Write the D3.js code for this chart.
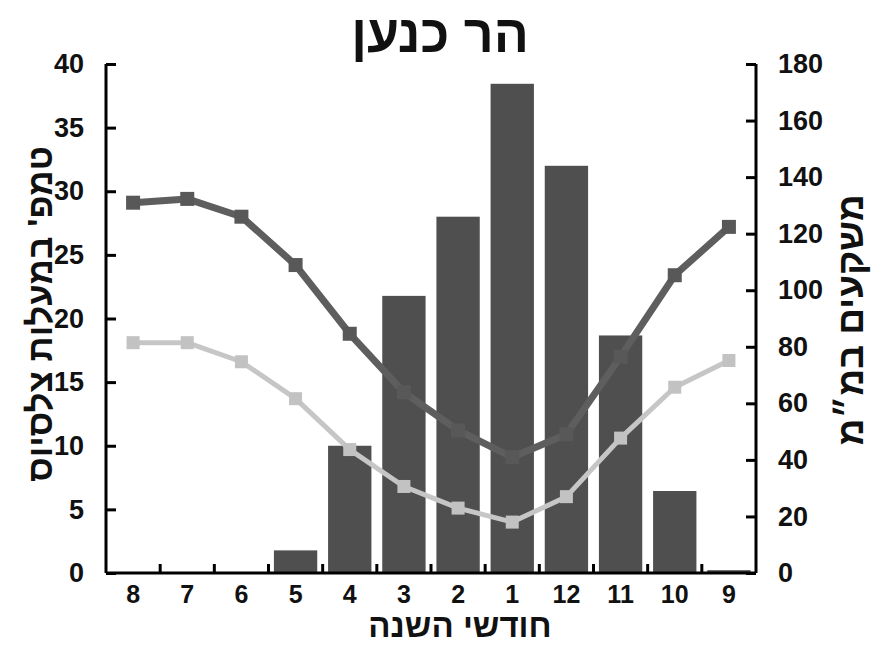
<!DOCTYPE html>
<html><head><meta charset="utf-8">
<script src="https://cdn.jsdelivr.net/npm/d3@7"></script>
<style>
body{margin:0;background:#fff;}
text{font-family:'Liberation Sans Narrow','Arial Narrow','Liberation Sans',sans-serif;font-weight:bold;fill:#111;}
</style></head><body>
<svg id="c" width="877" height="646"></svg>
<script>
const months = ["8","7","6","5","4","3","2","1","12","11","10","9"];
const rain = [0,0,0,8,45,98,126,173,144,84,29,1];
const tMax = [29.1,29.4,28.0,24.2,18.8,14.2,11.2,9.1,10.9,17.0,23.4,27.2];
const tMin = [18.1,18.1,16.6,13.7,9.7,6.8,5.1,4.0,6.0,10.6,14.6,16.7];
const tempTicks = [0,5,10,15,20,25,30,35,40];
const rainTicks = [0,20,40,60,80,100,120,140,160,180];
const title = "הר כנען";
const xTitle = "חודשי השנה";
const yLeftTitle = "טמפ' במעלות צלסיוס";
const yRightTitle = "משקעים במ״מ";

const svg = d3.select("#c");
const L = 106, R = 756, T = 64, B = 573;

const x = d3.scaleBand().domain(months).range([L, R]).paddingInner(0.2).paddingOuter(0.1);
const xb = d3.scaleBand().domain(months).range([L, R]);
const yT = d3.scaleLinear().domain([0, 40]).range([B, T]);
const yR = d3.scaleLinear().domain([0, 180]).range([B, T]);

// bars
svg.append("g").selectAll("rect").data(months).join("rect")
  .attr("x", d => x(d)).attr("width", x.bandwidth())
  .attr("y", (d,i) => yR(rain[i])).attr("height", (d,i) => B - yR(rain[i]))
  .attr("fill", "#4f4f4f");

// lines
const line = vals => d3.line().x((d,i) => xb(months[i]) + xb.bandwidth()/2).y(d => yT(d))(vals);
function series(vals, col, mcol, w, ms){
  svg.append("path").attr("d", line(vals)).attr("fill","none").attr("stroke",col)
    .attr("stroke-width",w).attr("stroke-linejoin","round");
  svg.append("g").selectAll("rect").data(vals).join("rect")
    .attr("x",(d,i)=>xb(months[i])+xb.bandwidth()/2-ms/2).attr("y",d=>yT(d)-ms/2)
    .attr("width",ms).attr("height",ms).attr("fill",mcol);
}
series(tMin, "#c6c6c6", "#c2c2c2", 5, 13);
series(tMax, "#5e5e5e", "#585858", 7, 14);

// left axis
const gl = svg.append("g").attr("transform",`translate(${L},0)`)
  .call(d3.axisLeft(yT).tickValues(tempTicks).tickSize(-10).tickPadding(22));
// right axis
const gr = svg.append("g").attr("transform",`translate(${R},0)`)
  .call(d3.axisRight(yR).tickValues(rainTicks).tickSize(-10).tickPadding(22));
// x axis
const gx = svg.append("g").attr("transform",`translate(0,${B})`)
  .call(d3.axisBottom(xb).tickSize(0).tickPadding(12));
[gl,gr,gx].forEach(g=>{
  g.select(".domain").attr("stroke","#000").attr("stroke-width",3);
  g.selectAll(".tick line").attr("stroke","#000").attr("stroke-width",3);
  g.selectAll("text").style("font-family","'Liberation Sans Narrow','Arial Narrow','Liberation Sans',sans-serif").style("font-weight","bold").attr("fill","#111");
});
gx.selectAll(".tick text").attr("font-size",25).attr("dy","0.72em");
gl.selectAll(".tick text").attr("font-size",27);
gr.selectAll(".tick text").attr("font-size",27);
gl.select(".domain").attr("d",`M0,${T}V${B}`);
gr.select(".domain").attr("d",`M0,${T}V${B}`);
gx.select(".domain").attr("d",`M${L},0H${R}`);
// x boundary ticks
svg.append("g").selectAll("line").data(months.slice(1)).join("line")
  .attr("x1", d => xb(d)).attr("x2", d => xb(d)).attr("y1", B).attr("y2", B-9)
  .attr("stroke","#000").attr("stroke-width",3);

// titles
svg.append("text").attr("x",440).attr("y",52).attr("text-anchor","middle")
  .attr("font-size",52).attr("direction","rtl").text(title);
svg.append("text").attr("x",460).attr("y",637).attr("text-anchor","middle")
  .attr("font-size",33).attr("direction","rtl").text(xTitle);
svg.append("text").attr("transform","translate(52,314) rotate(-90)").attr("text-anchor","middle")
  .attr("font-size",35).attr("direction","rtl").text(yLeftTitle);
svg.append("text").attr("transform","translate(863,320) rotate(-90)").attr("text-anchor","middle")
  .attr("font-size",37).attr("direction","rtl").text(yRightTitle);
</script></body></html>
